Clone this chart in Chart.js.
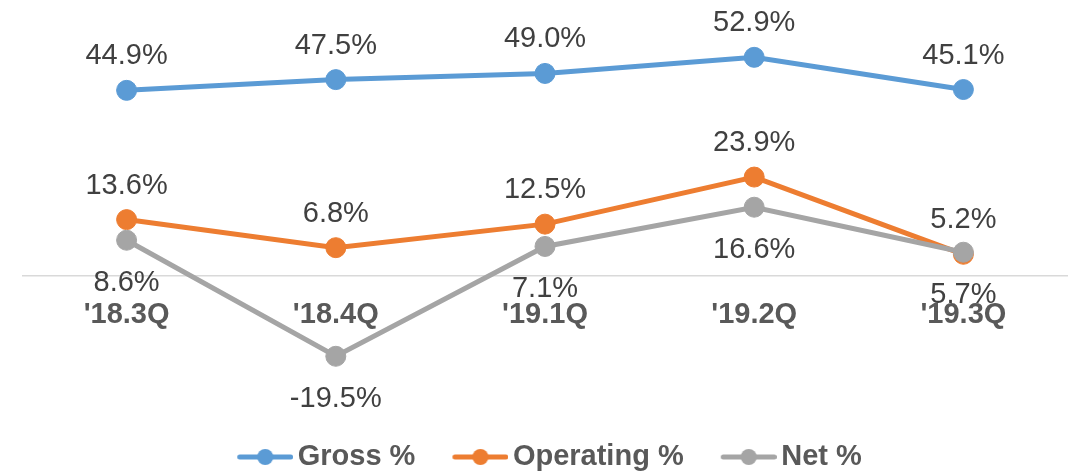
<!DOCTYPE html>
<html>
<head>
<meta charset="utf-8">
<script src="https://cdn.jsdelivr.net/npm/chart.js@4.4.1/dist/chart.umd.min.js"></script>
<style>
  html, body { margin: 0; padding: 0; background: #fff; }
  #wrap { width: 1081px; height: 472px; position: relative; }
</style>
</head>
<body>
<div id="wrap"><canvas id="marginChart"></canvas></div>
<script>
const quarters = ["'18.3Q", "'18.4Q", "'19.1Q", "'19.2Q", "'19.3Q"];
const grossPct = [44.9, 47.5, 49.0, 52.9, 45.1];
const operatingPct = [13.6, 6.8, 12.5, 23.9, 5.2];
const netPct = [8.6, -19.5, 7.1, 16.6, 5.7];
const seriesNames = ['Gross %', 'Operating %', 'Net %'];
const seriesColors = ['#5b9bd5', '#ed7d31', '#a5a5a5'];
const labelBelow = [false, false, true];

const FONT = "'Liberation Sans', Arial, sans-serif";

// line + dot marker for the legend (office style).
// left part of the canvas is left empty so the marker sits close to its text
function legendMarker(color) {
    const c = document.createElement('canvas');
    c.width = 75;
    c.height = 22;
    const g = c.getContext('2d');
    g.strokeStyle = color;
    g.lineWidth = 5;
    g.lineCap = 'round';
    g.beginPath();
    g.moveTo(21.5, 11);
    g.lineTo(72.5, 11);
    g.stroke();
    g.fillStyle = color;
    g.beginPath();
    g.arc(47, 11, 8, 0, Math.PI * 2);
    g.fill();
    return c;
}
const markers = seriesColors.map(legendMarker);

// zero line, value labels and quarter names
const labelPlugin = {
    id: 'pointLabels',
    beforeDatasetsDraw(chart) {
        const { ctx, chartArea } = chart;
        const zeroY = chart.scales.y.getPixelForValue(0);
        ctx.save();
        ctx.strokeStyle = '#d9d9d9';
        ctx.lineWidth = 1.5;
        ctx.beginPath();
        ctx.moveTo(chartArea.left, zeroY);
        ctx.lineTo(chartArea.right, zeroY);
        ctx.stroke();
        ctx.restore();
    },
    afterDatasetsDraw(chart) {
        const ctx = chart.ctx;
        const xScale = chart.scales.x;
        const yScale = chart.scales.y;
        ctx.save();
        ctx.textAlign = 'center';
        ctx.textBaseline = 'alphabetic';
        ctx.font = '29px ' + FONT;
        ctx.fillStyle = '#404040';
        chart.data.datasets.forEach((ds, i) => {
            const meta = chart.getDatasetMeta(i);
            meta.data.forEach((pt, j) => {
                const y = labelBelow[i] ? pt.y + 51 : pt.y - 26;
                ctx.fillText(ds.data[j].toFixed(1) + '%', pt.x, y);
            });
        });
        const zeroY = yScale.getPixelForValue(0);
        ctx.font = 'bold 29px ' + FONT;
        ctx.fillStyle = '#595959';
        quarters.forEach((q, j) => {
            ctx.fillText(q, xScale.getPixelForValue(j), zeroY + 47);
        });
        ctx.restore();
    }
};

function makeSeries(idx, data, order) {
    return {
        label: seriesNames[idx],
        data: data,
        borderColor: seriesColors[idx],
        backgroundColor: seriesColors[idx],
        pointBackgroundColor: seriesColors[idx],
        pointBorderColor: seriesColors[idx],
        borderWidth: 5,
        pointRadius: 10,
        pointBorderWidth: 1,
        tension: 0,
        order: order
    };
}

const ctx = document.getElementById('marginChart').getContext('2d');
new Chart(ctx, {
    type: 'line',
    data: {
        labels: quarters,
        datasets: [
            makeSeries(0, grossPct, 2),
            makeSeries(1, operatingPct, 1),
            makeSeries(2, netPct, 0)
        ]
    },
    options: {
        responsive: true,
        maintainAspectRatio: false,
        animation: false,
        layout: {
            padding: { top: 28, left: 22, right: 13, bottom: -9.5 }
        },
        scales: {
            x: {
                display: false,
                offset: true
            },
            y: {
                display: false,
                min: -33.6,
                max: 60
            }
        },
        plugins: {
            tooltip: { enabled: false },
            legend: {
                display: true,
                position: 'bottom',
                labels: {
                    usePointStyle: true,
                    pointStyleWidth: 55,
                    padding: 28,
                    color: '#595959',
                    font: { family: FONT, size: 29, weight: 'bold' },
                    sort: (a, b) => a.datasetIndex - b.datasetIndex,
                    generateLabels(chart) {
                        const items = Chart.defaults.plugins.legend.labels.generateLabels(chart);
                        items.forEach(it => { it.pointStyle = markers[it.datasetIndex]; });
                        return items;
                    }
                }
            }
        }
    },
    plugins: [labelPlugin]
});
</script>
</body>
</html>
